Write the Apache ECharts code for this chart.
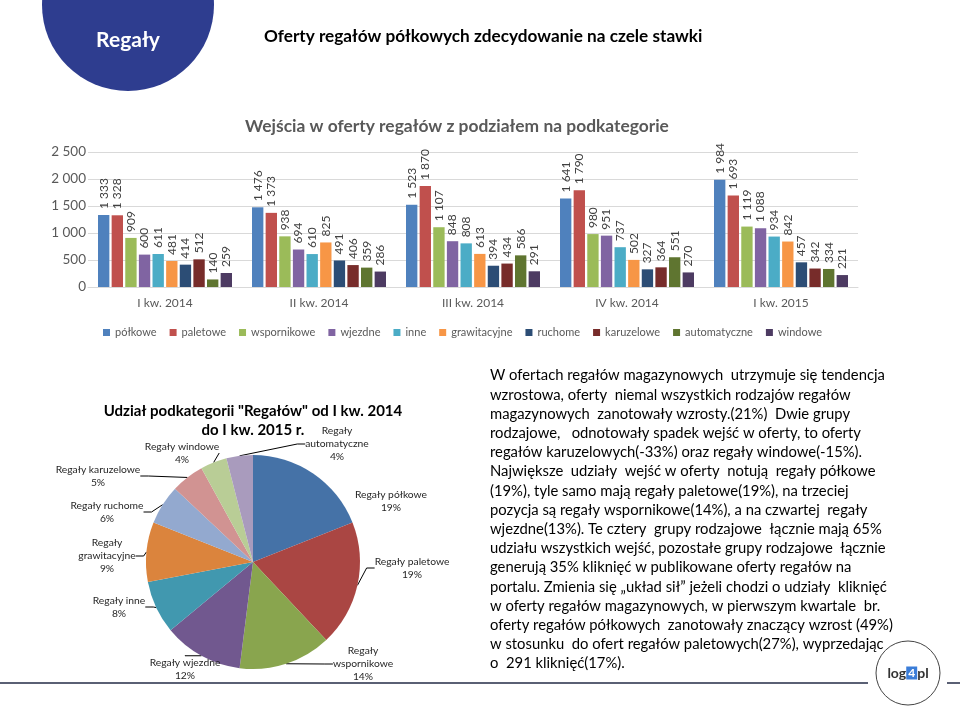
<!DOCTYPE html>
<html><head><meta charset="utf-8">
<script src="https://cdn.jsdelivr.net/npm/echarts@6/dist/echarts.min.js"></script>
<style>html,body{margin:0;padding:0;background:#fff}#c{width:960px;height:709px}</style>
</head><body><div id="c"></div>
<script>
const categories = ['I kw. 2014','II kw. 2014','III kw. 2014','IV kw. 2014','I kw. 2015'];
const seriesNames = ['półkowe','paletowe','wspornikowe','wjezdne','inne','grawitacyjne','ruchome','karuzelowe','automatyczne','windowe'];
const polkowe = [1333,1476,1523,1641,1984];
const paletowe = [1328,1373,1870,1790,1693];
const wspornikowe = [909,938,1107,980,1119];
const wjezdne = [600,694,848,951,1088];
const inne = [611,610,808,737,934];
const grawitacyjne = [481,825,613,502,842];
const ruchome = [414,491,394,327,457];
const karuzelowe = [512,406,434,364,342];
const automatyczne = [140,359,586,551,334];
const windowe = [259,286,291,270,221];
const barValues = [polkowe,paletowe,wspornikowe,wjezdne,inne,grawitacyjne,ruchome,karuzelowe,automatyczne,windowe];
const yTicks = [0,500,1000,1500,2000,2500];

const pieNames = ['Regały półkowe','Regały paletowe','Regały\nwspornikowe','Regały wjezdne','Regały inne','Regały\ngrawitacyjne','Regały ruchome','Regały karuzelowe','Regały windowe','Regały\nautomatyczne'];
const pieValues = [19,19,14,12,8,9,6,5,4,4];

const paragraph = [
'W ofertach regałów magazynowych  utrzymuje się tendencja',
'wzrostowa, oferty  niemal wszystkich rodzajów regałów',
'magazynowych  zanotowały wzrosty.(21%)  Dwie grupy',
'rodzajowe,   odnotowały spadek wejść w oferty, to oferty',
'regałów karuzelowych(-33%) oraz regały windowe(-15%).',
'Największe  udziały  wejść w oferty  notują  regały półkowe',
'(19%), tyle samo mają regały paletowe(19%), na trzeciej',
'pozycja są regały wspornikowe(14%), a na czwartej  regały',
'wjezdne(13%). Te cztery  grupy rodzajowe  łącznie mają 65%',
'udziału wszystkich wejść, pozostałe grupy rodzajowe  łącznie',
'generują 35% kliknięć w publikowane oferty regałów na',
'portalu. Zmienia się „układ sił” jeżeli chodzi o udziały  kliknięć',
'w oferty regałów magazynowych, w pierwszym kwartale  br.',
'oferty regałów półkowych  zanotowały znaczący wzrost (49%)',
'w stosunku  do ofert regałów paletowych(27%), wyprzedając',
'o  291 kliknięć(17%).'
];

// label placement (layout, not data)
const pieLabelPos = [[391,501],[412,568],[363,664],[185,669],[119,607],[107,556],[107,512],[98,476],[182,453],[337,444]];

const barColors = ['#4F81BD','#C0504D','#9BBB59','#8064A2','#4BACC6','#F79646','#2C4D75','#772C2A','#5F7530','#4D3B62'];
const pieColors = ['#4572A7','#AA4643','#89A54E','#71588F','#4198AF','#DB843D','#93A9CF','#D19392','#B9CD96','#A99BBD'];
const FONT = 'Lato';
const fmt = v => String(v).replace(/\B(?=(\d{3})+(?!\d))/g, ' ');

const chart = echarts.init(document.getElementById('c'), null, {renderer:'canvas'});
const barSeries = seriesNames.map((n,i)=>({
  name:n, type:'bar', data:barValues[i], barGap:'20%', barCategoryGap:'13%',
  itemStyle:{color:barColors[i]},
  label:{show:true, position:'top', rotate:90, align:'left', verticalAlign:'middle', distance:6,
    fontFamily:FONT, fontSize:12, color:'#404040', formatter:p=>fmt(p.value)}
}));

chart.setOption({
  animation:false,
  backgroundColor:'#fff',
  grid:{left:88, right:102, top:152, bottom:422},
  legend:{data:seriesNames, left:98, top:322, itemWidth:7, itemHeight:7, itemGap:13, icon:'rect',
    textStyle:{fontFamily:FONT, fontSize:11, color:'#595959'}},
  xAxis:{type:'category', data:categories, axisTick:{show:false},
    axisLine:{lineStyle:{color:'#D9D9D9'}},
    axisLabel:{fontFamily:FONT, fontSize:12, color:'#595959', margin:10}},
  yAxis:{type:'value', min:yTicks[0], max:yTicks[yTicks.length-1], interval:500,
    splitLine:{lineStyle:{color:'#D9D9D9'}}, axisLine:{show:false}, axisTick:{show:false},
    axisLabel:{fontFamily:FONT, fontSize:13.5, color:'#595959', margin:2, formatter:v=>fmt(v)}},
  series:[...barSeries, {
    type:'pie', center:[253,562], radius:107, startAngle:90, clockwise:true,
    data:pieNames.map((n,i)=>({name:n, value:pieValues[i], itemStyle:{color:pieColors[i]},
      labelLine:{show:i!==0}})),
    label:{show:true, position:'outside', fontFamily:FONT, fontSize:10.3, color:'#262626', lineHeight:13,
      align:'center', formatter:p=>p.name+'\n'+p.value+'%'},
    labelLine:{show:true, length:6, length2:8, lineStyle:{color:'#000', width:1}},
    labelLayout:p=>({x:pieLabelPos[p.dataIndex][0], y:pieLabelPos[p.dataIndex][1], align:'center', verticalAlign:'middle'}),
    itemStyle:{borderWidth:0}, emphasis:{disabled:true}
  }],
  graphic:[
    {type:'circle', shape:{cx:128, cy:5, r:86}, style:{fill:'#2E3D8F'}},
    {type:'text', x:128, y:40, style:{text:'Regały', fill:'#fff', font:'bold 21px '+FONT, textAlign:'center', textVerticalAlign:'middle'}},
    {type:'text', x:264, y:36, style:{text:'Oferty regałów półkowych zdecydowanie na czele stawki', fill:'#000', font:'bold 17.2px '+FONT, textVerticalAlign:'middle'}},
    {type:'text', x:457, y:126, style:{text:'Wejścia w oferty regałów z podziałem na podkategorie', fill:'#595959', font:'bold 17.4px '+FONT, textAlign:'center', textVerticalAlign:'middle'}},
    {type:'text', x:253, y:402, style:{text:'Udział podkategorii "Regałów" od I kw. 2014\ndo I kw. 2015 r.', fill:'#000', font:'bold 15px '+FONT, textAlign:'center', lineHeight:19}},
    {type:'text', x:490, y:366, style:{text:paragraph.join('\n'), fill:'#000', font:'14.8px '+FONT, lineHeight:19.2}},
    {type:'line', shape:{x1:0, y1:683, x2:868, y2:683}, style:{stroke:'#5A6074', lineWidth:2}},
    {type:'line', shape:{x1:947, y1:683, x2:960, y2:683}, style:{stroke:'#5A6074', lineWidth:2}},
    {type:'circle', shape:{cx:908, cy:673, r:32}, style:{fill:'#fff', stroke:'#444', lineWidth:1}},
    {type:'text', x:908, y:673, style:{text:'{a|log}{b|4}{a|pl}', textAlign:'center', textVerticalAlign:'middle',
      rich:{a:{font:'bold 14px '+FONT, fill:'#333'}, b:{font:'bold 12px '+FONT, fill:'#fff', backgroundColor:'#3B7DD8', padding:[1,2,0,2]}}}}
  ]
});
</script></body></html>
